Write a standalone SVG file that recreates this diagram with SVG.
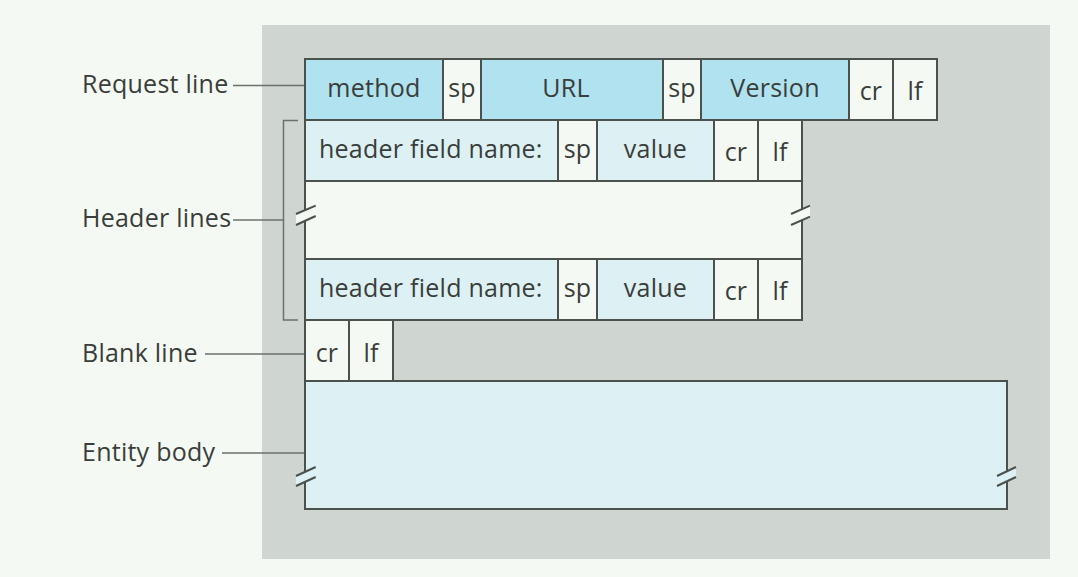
<svg xmlns="http://www.w3.org/2000/svg" width="1078" height="577" viewBox="0 0 1078 577">
<style>
.t{font-family:"Open Sans","Noto Sans","Liberation Sans",sans-serif;font-size:25px;letter-spacing:0.25px;fill:#3a3d39}
.c{text-anchor:middle}
.box{stroke:#4b514d;stroke-width:2}
.dark{fill:#b0e2f0}
.light{fill:#ddf1f4}
.pale{fill:#f4f9f3}
.lead{stroke:#6b706c;stroke-width:1.5;fill:none}
.brk{stroke:#4b514d;stroke-width:2;fill:none}
</style>
<rect x="0" y="0" width="1078" height="577" fill="#f4f9f3"/>
<rect x="262" y="25" width="788" height="534" fill="#cfd6d2"/>

<g id="connectors">
<line class="lead" x1="233" y1="85.5" x2="305" y2="85.5"/>
<polyline class="lead" points="298,120.5 283.5,120.5 283.5,320 298,320"/>
<line class="lead" x1="233" y1="220" x2="283.5" y2="220"/>
<line class="lead" x1="205" y1="354" x2="305" y2="354"/>
<line class="lead" x1="222" y1="453" x2="305" y2="453"/>
</g>

<g id="labels">
<text class="t" x="82" y="93">Request line</text>
<text class="t" x="82" y="227">Header lines</text>
<text class="t" x="82" y="362">Blank line</text>
<text class="t" x="82" y="461">Entity body</text>
</g>

<g id="request-line">
<rect class="box dark" x="305" y="59" width="138" height="61"/>
<rect class="box pale" x="443" y="59" width="38" height="61"/>
<rect class="box dark" x="481" y="59" width="182" height="61"/>
<rect class="box pale" x="663" y="59" width="38" height="61"/>
<rect class="box dark" x="701" y="59" width="148" height="61"/>
<rect class="box pale" x="849" y="59" width="44" height="61"/>
<rect class="box pale" x="893" y="59" width="44" height="61"/>
<text class="t c" x="374" y="97">method</text>
<text class="t c" x="462" y="97">sp</text>
<text class="t c" x="566" y="97">URL</text>
<text class="t c" x="682" y="97">sp</text>
<text class="t c" x="775" y="97">Version</text>
<text class="t c" x="871" y="100">cr</text>
<text class="t c" x="915" y="100">lf</text>
</g>

<g id="header-line-1">
<rect class="box light" x="305" y="120" width="253" height="61"/>
<rect class="box pale" x="558" y="120" width="39" height="61"/>
<rect class="box light" x="597" y="120" width="117" height="61"/>
<rect class="box pale" x="714" y="120" width="44" height="61"/>
<rect class="box pale" x="758" y="120" width="44" height="61"/>
<text class="t" x="319" y="158">header field name:</text>
<text class="t c" x="577.5" y="158">sp</text>
<text class="t c" x="655.5" y="158">value</text>
<text class="t c" x="736" y="161">cr</text>
<text class="t c" x="780" y="161">lf</text>
</g>

<g id="header-gap">
<rect class="box pale" x="305" y="181" width="497" height="78"/>
<polygon points="296,214 315.7,205.7 315.7,216 296,225" fill="#f4f9f3"/>
<line class="brk" x1="296" y1="214" x2="315.7" y2="205.7"/>
<line class="brk" x1="296" y1="225" x2="315.7" y2="216"/>
<polygon points="791,214 810,205.7 810,216.7 791,225" fill="#f4f9f3"/>
<line class="brk" x1="791" y1="214" x2="810" y2="205.7"/>
<line class="brk" x1="791" y1="225" x2="810" y2="216.7"/>
</g>

<g id="header-line-2">
<rect class="box light" x="305" y="259" width="253" height="61"/>
<rect class="box pale" x="558" y="259" width="39" height="61"/>
<rect class="box light" x="597" y="259" width="117" height="61"/>
<rect class="box pale" x="714" y="259" width="44" height="61"/>
<rect class="box pale" x="758" y="259" width="44" height="61"/>
<text class="t" x="319" y="297">header field name:</text>
<text class="t c" x="577.5" y="297">sp</text>
<text class="t c" x="655.5" y="297">value</text>
<text class="t c" x="736" y="300">cr</text>
<text class="t c" x="780" y="300">lf</text>
</g>

<g id="blank-line">
<rect class="box pale" x="305" y="320" width="44" height="61"/>
<rect class="box pale" x="349" y="320" width="44" height="61"/>
<text class="t c" x="327" y="362">cr</text>
<text class="t c" x="371" y="362">lf</text>
</g>

<g id="entity-body">
<rect class="box light" x="305" y="381" width="702" height="128"/>
<polygon points="296,476 315.7,467 315.7,477 296,486" fill="#ddf1f4"/>
<line class="brk" x1="296" y1="476" x2="315.7" y2="467"/>
<line class="brk" x1="296" y1="486" x2="315.7" y2="477"/>
<polygon points="997,476 1016,467 1016,477 997,486" fill="#ddf1f4"/>
<line class="brk" x1="997" y1="476" x2="1016" y2="467"/>
<line class="brk" x1="997" y1="486" x2="1016" y2="477"/>
</g>
</svg>
